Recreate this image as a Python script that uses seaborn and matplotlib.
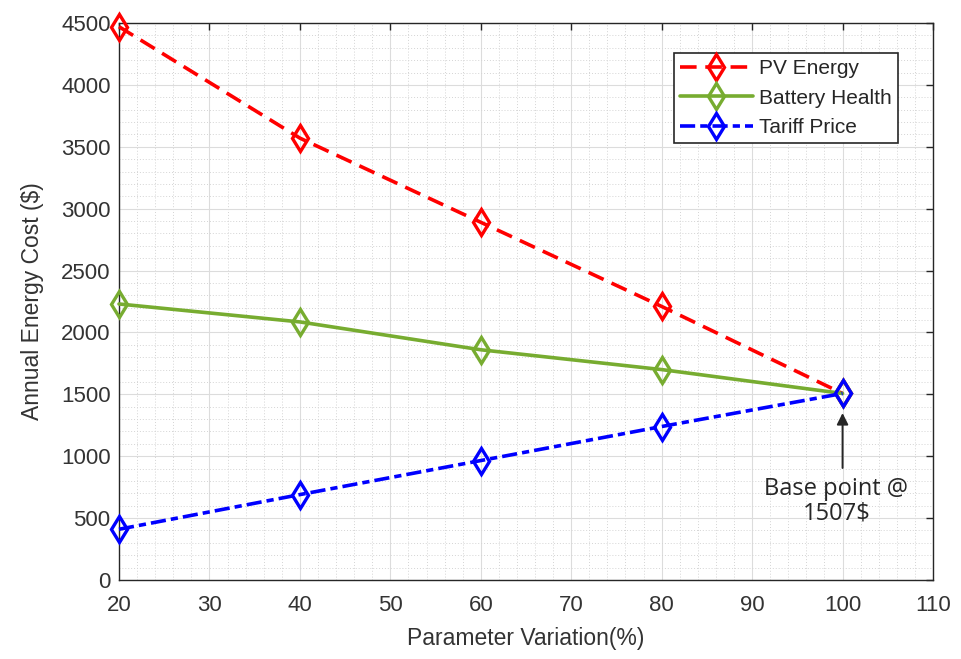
import matplotlib
matplotlib.use("Agg")
import matplotlib.pyplot as plt
import seaborn as sns
import pandas as pd
from matplotlib.ticker import MultipleLocator

# Data
variation = [20, 40, 60, 80, 100]
pv_energy = [4470, 3570, 2890, 2210, 1507]
battery_health = [2230, 2085, 1860, 1700, 1507]
tariff_price = [410, 690, 965, 1240, 1507]

series_names = ["PV Energy", "Battery Health", "Tariff Price"]
x_ticks = [20, 30, 40, 50, 60, 70, 80, 90, 100, 110]
y_ticks = [0, 500, 1000, 1500, 2000, 2500, 3000, 3500, 4000, 4500]
base_value = 1507

sns.set_theme(style="white")
plt.rcParams["font.family"] = ["Liberation Sans", "DejaVu Sans"]

fig = plt.figure(figsize=(9.61, 6.59), dpi=100)
ax = fig.add_axes([119 / 961, 1 - 580 / 659, (933 - 119) / 961, (580 - 23) / 659])

styles = [
    dict(color="#ff0000", linestyle=(0, (4.6, 2.4))),
    dict(color="#77ac30", linestyle="-"),
    dict(color="#0000ff", linestyle=(0, (4.2, 1.4, 2.0, 1.4))),
]
for name, vals, st in zip(series_names, [pv_energy, battery_health, tariff_price], styles):
    sns.lineplot(x=variation, y=vals, ax=ax, color=st["color"], linestyle=st["linestyle"],
                 linewidth=2.6, marker="d", markersize=13, markerfacecolor="none",
                 markeredgecolor=st["color"], markeredgewidth=2.4, label=name,
                 clip_on=False, zorder=3)

ax.set_xlim(20, 110)
ax.set_ylim(0, 4500)
ax.set_xticks(x_ticks)
ax.set_yticks(y_ticks)
ax.xaxis.set_minor_locator(MultipleLocator(2))
ax.yaxis.set_minor_locator(MultipleLocator(100))

ax.grid(which="major", color="#dcdcdc", linewidth=0.8, linestyle="-")
ax.grid(which="minor", color="#d4d4d4", linewidth=0.7, linestyle=(0, (1, 2)))
ax.set_axisbelow(True)

for sp in ax.spines.values():
    sp.set_visible(True)
    sp.set_color("#262626")
    sp.set_linewidth(1.0)

ax.tick_params(which="major", direction="in", length=5, width=1, colors="#262626",
               top=True, right=True, labelsize=16, labelcolor="#333333")
ax.tick_params(axis="x", which="major", pad=11)
ax.tick_params(axis="y", which="major", pad=6)
ax.tick_params(which="minor", length=0, top=False, right=False)

ax.set_xlabel("Parameter Variation(%)", fontsize=16.5, color="#333333", labelpad=8)
ax.set_ylabel("Annual Energy Cost ($)", fontsize=16.5, color="#333333", labelpad=12)

leg = ax.legend(loc="upper right", bbox_to_anchor=(0.97, 0.965), fontsize=15,
                frameon=True, fancybox=False, edgecolor="#262626", framealpha=1,
                handlelength=3.5, handletextpad=0.3, borderpad=0.3, labelspacing=0.5)
leg.get_frame().set_linewidth(1.2)
for t in leg.get_texts():
    t.set_color("#262626")

# arrow pointing to base point
ax.annotate("", xy=(100, 1349), xytext=(100, 905),
            arrowprops=dict(arrowstyle="-|>", color="#262626", lw=1.4, mutation_scale=17,
                            shrinkA=0, shrinkB=0),
            annotation_clip=False)
ax.text(99.3, 835, f"Base point @\n{base_value}$", ha="center", va="top", fontsize=17,
        color="#262626", family=["Open Sans", "DejaVu Sans"], linespacing=1.05)

fig.savefig("out.png", dpi=100, facecolor="white")
